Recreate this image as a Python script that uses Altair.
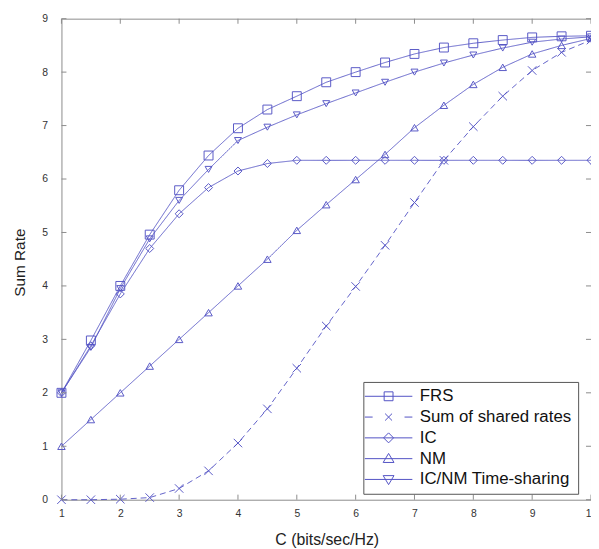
import altair as alt
import pandas as pd

# ---- data ----
c_values = [1, 1.5, 2, 2.5, 3, 3.5, 4, 4.5, 5, 5.5, 6, 6.5, 7, 7.5, 8, 8.5, 9, 9.5, 10]
frs = [2.0, 2.98, 4.0, 4.96, 5.79, 6.44, 6.95, 7.30, 7.55, 7.81, 8.0, 8.18, 8.34, 8.46, 8.54, 8.60, 8.65, 8.67, 8.68]
shared = [0.0, 0.0, 0.01, 0.04, 0.21, 0.54, 1.06, 1.70, 2.46, 3.25, 3.99, 4.76, 5.56, 6.35, 6.98, 7.55, 8.03, 8.37, 8.60]
ic = [2.0, 2.88, 3.85, 4.70, 5.35, 5.84, 6.15, 6.29, 6.35, 6.35, 6.35, 6.35, 6.35, 6.35, 6.35, 6.35, 6.35, 6.35, 6.35]
nm = [1.0, 1.5, 2.0, 2.5, 3.0, 3.5, 4.0, 4.5, 5.04, 5.52, 5.99, 6.46, 6.96, 7.38, 7.77, 8.09, 8.34, 8.50, 8.63]
ts = [2.0, 2.85, 3.95, 4.88, 5.60, 6.18, 6.72, 6.97, 7.20, 7.41, 7.61, 7.81, 8.0, 8.17, 8.32, 8.45, 8.56, 8.62, 8.66]

series_names = ["FRS", "Sum of shared rates", "IC", "NM", "IC/NM Time-sharing"]
series_values = [frs, shared, ic, nm, ts]
x_ticks = [1, 2, 3, 4, 5, 6, 7, 8, 9, 10]
y_ticks = [0, 1, 2, 3, 4, 5, 6, 7, 8, 9]

rows = []
for name, vals in zip(series_names, series_values):
    for c, v in zip(c_values, vals):
        rows.append({"C": c, "rate": v, "series": name})
df = pd.DataFrame(rows)
xt = pd.DataFrame({"C": x_ticks})
yt = pd.DataFrame({"rate": y_ticks})

COLOR = "#5252c4"
FRAME = "#8c8c8c"
FONT = "Liberation Sans"

xscale = alt.Scale(domain=[1, 10], nice=False, zero=False)
yscale = alt.Scale(domain=[0, 9], nice=False, zero=False)

x_axis = alt.Axis(values=x_ticks, format="d", title="C (bits/sec/Hz)", grid=False, domain=False,
                  tickSize=0, labelPadding=9, labelFontSize=10.5, labelColor="#333333",
                  labelFlush=False, labelOverlap=False,
                  labelFont=FONT, titleFont=FONT, titleFontSize=16, titleFontWeight="normal",
                  titleColor="#222222", titleX=268, titleY=45, titleBaseline="alphabetic")
y_axis = alt.Axis(values=y_ticks, format="d", title="Sum Rate", grid=False, domain=False,
                  tickSize=0, labelPadding=14, labelFontSize=10.5, labelColor="#333333",
                  labelFlush=False, labelOverlap=False,
                  labelFont=FONT, titleFont=FONT, titleFontSize=15.5, titleFontWeight="normal",
                  titleColor="#222222", titleX=-34, titleY=246)

X = alt.X("C:Q", scale=xscale, axis=x_axis, title="C (bits/sec/Hz)")
Y = alt.Y("rate:Q", scale=yscale, axis=y_axis, title="Sum Rate")

dash_scale = alt.Scale(domain=series_names, range=[[1, 0], [6, 4], [1, 0], [1, 0], [1, 0]])
lines = alt.Chart(df).mark_line(color=COLOR, strokeWidth=1, opacity=0.9).encode(
    x=X, y=Y,
    strokeDash=alt.StrokeDash("series:N", scale=dash_scale, legend=None),
    detail="series:N",
)

shape_scale = alt.Scale(domain=series_names,
                        range=["square", "M-1,-1L1,1M-1,1L1,-1", "diamond", "triangle-up", "triangle-down"])
size_scale = alt.Scale(domain=series_names, range=[81, 49, 100, 120, 120])
points = alt.Chart(df).mark_point(color=COLOR, filled=False, strokeWidth=1, opacity=0.95).encode(
    x=X, y=Y,
    shape=alt.Shape("series:N", scale=shape_scale, legend=None),
    size=alt.Size("series:N", scale=size_scale, legend=None),
)

# legend symbols: line + marker
L = "M-3.43,0H3.43"
legend_paths = [
    L + "M-0.64,-0.64H0.64V0.64H-0.64Z",
    "M-3.43,0H-2.3M2.3,0H3.43M-0.5,-0.5L0.5,0.5M-0.5,0.5L0.5,-0.5",
    L + "M0,-0.72L0.72,0L0,0.72L-0.72,0Z",
    L + "M0,-0.75L0.78,0.55L-0.78,0.55Z",
    L + "M0,0.75L0.78,-0.55L-0.78,-0.55Z",
]
legend_layer = alt.Chart(df).mark_point(color=COLOR, filled=False).encode(
    x=X, y=Y,
    shape=alt.Shape("series:N", scale=alt.Scale(domain=series_names, range=legend_paths),
                    legend=alt.Legend(title=None, orient="none", legendX=305, legendY=367,
                                      symbolSize=196, symbolStrokeWidth=1, symbolStrokeColor=COLOR,
                                      symbolFillColor="transparent", symbolOpacity=1,
                                      symbolOffset=11, labelOffset=23,
                                      labelFont=FONT, labelFontSize=17, labelColor="#111111",
                                      rowPadding=3, padding=6,
                                      strokeColor="#555555", fillColor="white")),
).transform_filter("false")

# inward ticks on all four sides (short rules, length given in data units)
tick_bottom = alt.Chart(xt).mark_rule(color=FRAME, strokeWidth=1).encode(
    x=X, y=alt.datum(0), y2=alt.datum(0.095))
tick_top = alt.Chart(xt).mark_rule(color=FRAME, strokeWidth=1).encode(
    x=X, y=alt.datum(9), y2=alt.datum(8.905))
tick_left = alt.Chart(yt).mark_rule(color=FRAME, strokeWidth=1).encode(
    y=Y, x=alt.datum(1), x2=alt.datum(1.085))
tick_right = alt.Chart(yt).mark_rule(color=FRAME, strokeWidth=1).encode(
    y=Y, x=alt.datum(10), x2=alt.datum(9.915))

chart = alt.layer(
    lines, points, tick_bottom, tick_top, tick_left, tick_right, legend_layer
).resolve_scale(shape="independent", size="independent").properties(
    width=535, height=486,
    autosize=alt.AutoSizeParams(type="none"),
    padding={"left": 54, "top": 8, "right": 0, "bottom": 47},
    background="white",
).configure_view(stroke=FRAME, strokeWidth=1)

chart.save("out.html", embed_options={"renderer": "svg", "actions": False})
